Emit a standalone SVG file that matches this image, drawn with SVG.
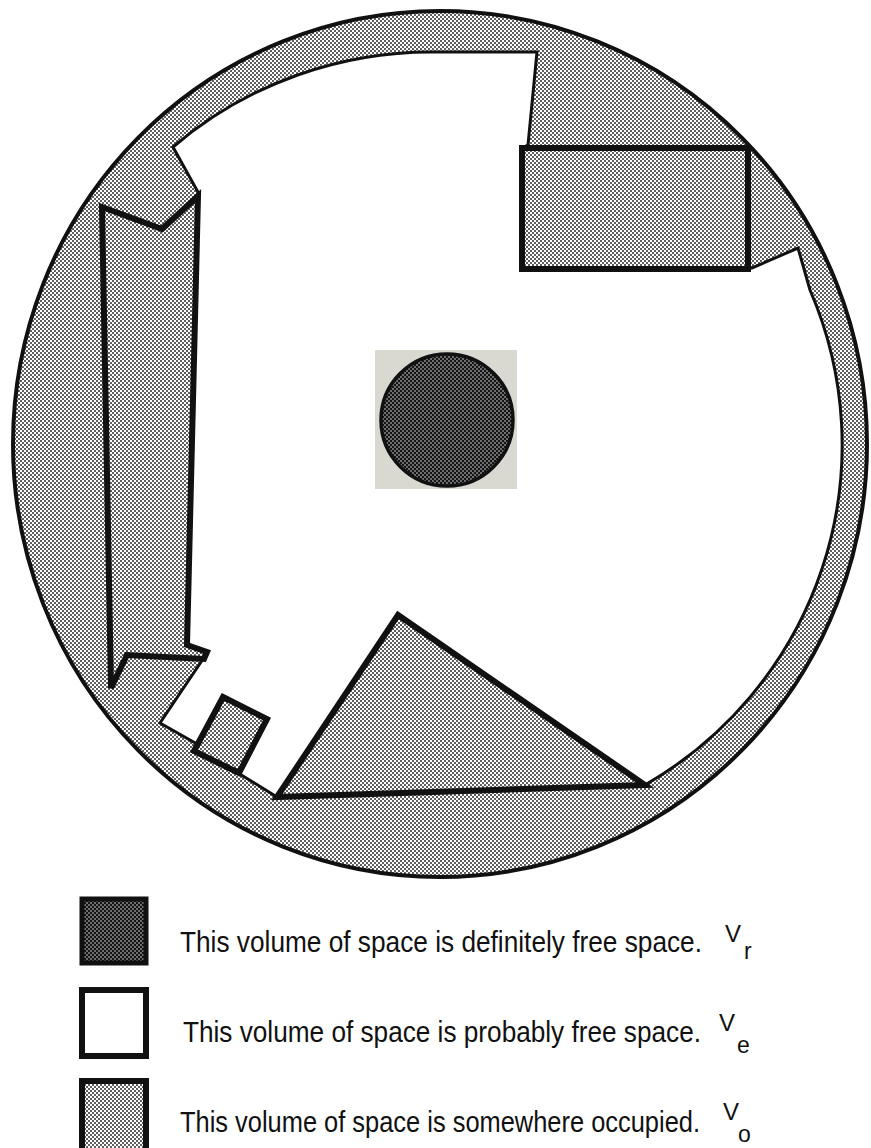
<svg xmlns="http://www.w3.org/2000/svg" width="871" height="1148" viewBox="0 0 871 1148">
<defs>
<pattern id="light" width="4" height="4" patternUnits="userSpaceOnUse">
<rect width="4" height="4" fill="#ffffff"/>
<circle cx="1" cy="1" r="0.95" fill="#1a1a1a"/>
<circle cx="3" cy="3" r="0.95" fill="#1a1a1a"/>
</pattern>
<pattern id="dark" width="4" height="4" patternUnits="userSpaceOnUse">
<rect width="4" height="4" fill="#141414"/>
<circle cx="1" cy="1" r="0.8" fill="#e0e0e0"/>
<circle cx="3" cy="3" r="0.8" fill="#e0e0e0"/>
</pattern>
<style>
.band{fill:url(#light);stroke:#111;stroke-width:4}
.free{fill:#fff;stroke:#111;stroke-width:3;stroke-linejoin:miter}
.occ{fill:url(#light);stroke:#111;stroke-width:6;stroke-linejoin:miter}
.lbl{font-family:"Liberation Sans",Arial,sans-serif;font-size:26px;fill:#111}
.v{font-family:"Liberation Sans",Arial,sans-serif;font-size:24px;fill:#111}
.sub{font-family:"Liberation Sans",Arial,sans-serif;font-size:23px;fill:#111}
</style>
</defs>
<rect width="871" height="1148" fill="#fff"/>

<g id="outer-band">
<ellipse class="band" cx="440" cy="444" rx="427" ry="433"/>
</g>

<g id="probable-free-space">
<path class="free" d="M537,52 L440,52 A396 393 0 0 0 173,147 L198,192 L187,645 L207,652 L201,662 L160,723 L197,744 L238,773 L277,797 L645,785 A396 393 0 0 0 810,290 L798,248 L752,268 L522,268 L522,148 L528,145 Z"/>
</g>

<g id="left-bar">
<path class="occ" d="M102,207 L162,229 L198,196 L187,645 L207,652 L204,659 L127,655 L111,688 Z"/>
</g>

<g id="top-right-box">
<rect class="occ" x="522" y="148" width="226" height="121"/>
</g>

<g id="small-square">
<path class="occ" d="M223,697 L267,719 L239,773 L194,751 Z"/>
</g>

<g id="triangle">
<path class="occ" stroke-width="7" d="M277,797 L398,615 L645,785 Z"/>
</g>

<g id="definite-free-space">
<rect x="375" y="350" width="142" height="139" fill="#d9d9d2"/>
<circle cx="447" cy="420" r="66" fill="url(#dark)" stroke="#111" stroke-width="3.5"/>
</g>

<g id="connectors"></g>

<g id="legend-free">
<rect x="82" y="899" width="64" height="64" fill="url(#dark)" stroke="#111" stroke-width="5"/>
<text class="lbl" transform="translate(180,952) scale(1,1.16)" x="0" y="0" textLength="522" lengthAdjust="spacingAndGlyphs">This volume of space is definitely free space.</text>
<text class="v" x="725" y="942">V</text>
<text class="sub" x="744" y="959">r</text>
</g>

<g id="legend-probable">
<rect x="82" y="990" width="64" height="66" fill="#fff" stroke="#111" stroke-width="6"/>
<text class="lbl" transform="translate(183,1042) scale(1,1.16)" x="0" y="0" textLength="518" lengthAdjust="spacingAndGlyphs">This volume of space is probably free space.</text>
<text class="v" x="719" y="1031">V</text>
<text class="sub" x="737" y="1053">e</text>
</g>

<g id="legend-occupied">
<rect x="82" y="1081" width="64" height="70" fill="url(#light)" stroke="#111" stroke-width="6"/>
<text class="lbl" transform="translate(180,1132) scale(1,1.16)" x="0" y="0" textLength="520" lengthAdjust="spacingAndGlyphs">This volume of space is somewhere occupied.</text>
<text class="v" x="723" y="1120">V</text>
<text class="sub" x="738" y="1142">o</text>
</g>
</svg>
